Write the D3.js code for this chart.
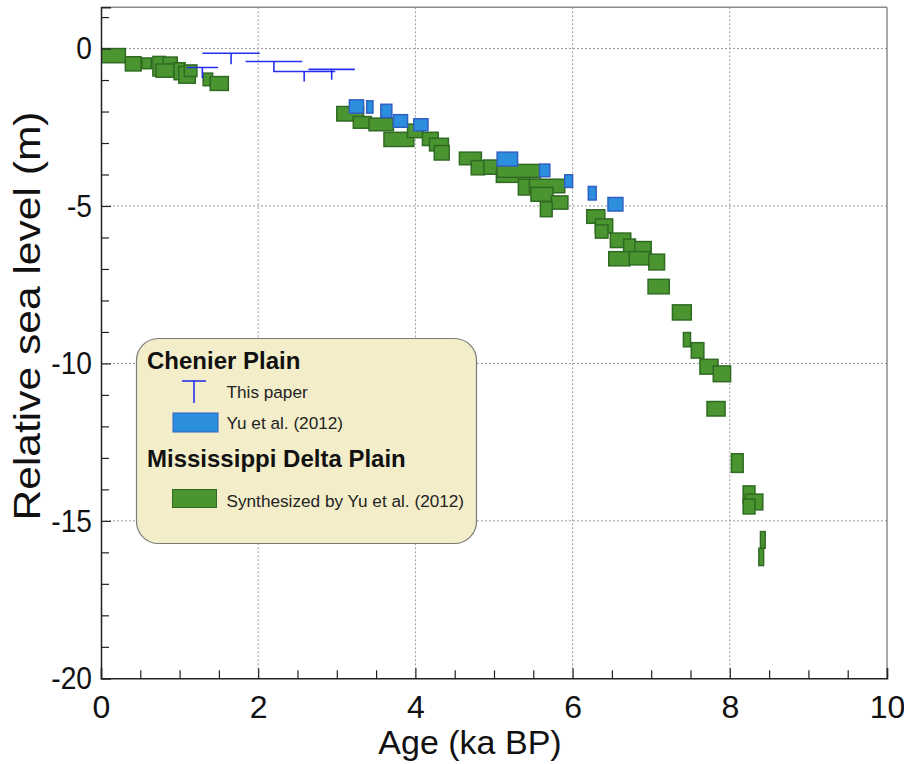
<!DOCTYPE html>
<html>
<head>
<meta charset="utf-8">
<script src="https://cdn.jsdelivr.net/npm/d3@7/dist/d3.min.js"></script>
<style>
  html, body { margin: 0; padding: 0; background: #fff; }
  svg { display: block; font-family: "Liberation Sans", Arial, sans-serif; }
</style>
</head>
<body>
<svg id="chart" width="904" height="764"></svg>
<script>
// ---- DATA ----
// Mississippi Delta Plain (synthesized by Yu et al. 2012): [age min, age max, RSL top, RSL bottom] (ka BP, m)
const mississippiDelta = [
  [0.00, 0.31, 0.00, -0.45],
  [0.31, 0.51, -0.26, -0.71],
  [0.52, 0.64, -0.30, -0.64],
  [0.66, 0.82, -0.25, -0.87],
  [0.79, 0.97, -0.27, -0.64],
  [0.70, 0.93, -0.49, -0.91],
  [0.93, 1.07, -0.45, -0.99],
  [0.99, 1.20, -0.57, -1.10],
  [1.06, 1.22, -0.52, -0.89],
  [1.30, 1.42, -0.78, -1.18],
  [1.39, 1.62, -0.89, -1.33],
  [3.00, 3.34, -1.84, -2.30],
  [3.21, 3.44, -2.16, -2.53],
  [3.41, 3.72, -2.21, -2.61],
  [3.60, 3.98, -2.66, -3.11],
  [3.90, 4.10, -2.40, -2.83],
  [4.09, 4.29, -2.66, -3.08],
  [4.18, 4.42, -2.85, -3.25],
  [4.24, 4.43, -3.08, -3.54],
  [4.56, 4.84, -3.29, -3.69],
  [4.71, 4.88, -3.56, -4.01],
  [4.87, 5.05, -3.54, -3.99],
  [5.03, 5.45, -3.89, -4.25],
  [5.04, 5.59, -3.68, -4.09],
  [5.31, 5.59, -4.15, -4.65],
  [5.45, 5.90, -4.15, -4.58],
  [5.47, 5.75, -4.41, -4.85],
  [5.73, 5.94, -4.68, -5.10],
  [5.59, 5.74, -4.87, -5.34],
  [6.18, 6.41, -5.12, -5.55],
  [6.29, 6.51, -5.41, -5.86],
  [6.29, 6.45, -5.60, -6.02],
  [6.48, 6.74, -5.86, -6.32],
  [6.65, 6.80, -6.05, -6.50],
  [6.79, 7.00, -6.13, -6.55],
  [6.46, 6.73, -6.45, -6.90],
  [6.72, 6.99, -6.45, -6.87],
  [6.97, 7.17, -6.53, -7.03],
  [6.96, 7.23, -7.33, -7.79],
  [7.27, 7.51, -8.14, -8.62],
  [7.41, 7.50, -9.02, -9.47],
  [7.51, 7.67, -9.34, -9.83],
  [7.62, 7.85, -9.87, -10.34],
  [7.79, 8.01, -10.08, -10.58],
  [7.71, 7.94, -11.21, -11.67],
  [8.02, 8.17, -12.87, -13.46],
  [8.17, 8.32, -13.89, -14.46],
  [8.20, 8.42, -14.15, -14.65],
  [8.17, 8.32, -14.31, -14.78],
  [8.39, 8.45, -15.34, -15.87],
  [8.37, 8.43, -15.87, -16.42]
];

// Chenier Plain, Yu et al. (2012): [age min, age max, RSL top, RSL bottom]
const chenierYu = [
  [3.16, 3.34, -1.63, -2.05],
  [3.38, 3.46, -1.66, -2.05],
  [3.56, 3.70, -1.77, -2.19],
  [3.72, 3.90, -2.10, -2.50],
  [3.98, 4.16, -2.23, -2.61],
  [5.04, 5.30, -3.29, -3.73],
  [5.58, 5.71, -3.67, -4.07],
  [5.90, 6.00, -4.01, -4.41],
  [6.20, 6.30, -4.38, -4.81],
  [6.45, 6.64, -4.73, -5.16]
];

// Chenier Plain, this paper: [age min, age max, RSL, lower bound offset (m)]
const chenierThisPaper = [
  [1.09, 1.49, -0.60, 0.34],
  [1.29, 2.02, -0.15, 0.35],
  [1.84, 2.56, -0.41, 0.32],
  [2.19, 2.98, -0.73, 0.32],
  [2.64, 3.23, -0.66, 0.33]
];

const xMajorTicks = [0, 2, 4, 6, 8, 10];
const xMinorTicks = [0.5, 1, 1.5, 2.5, 3, 3.5, 4.5, 5, 5.5, 6.5, 7, 7.5, 8.5, 9, 9.5];
const yMajorTicks = [0, -5, -10, -15, -20];
const yMinorTicks = [1, -1, -2, -3, -4, -6, -7, -8, -9, -11, -12, -13, -14, -16, -17, -18, -19];
const xGrid = [2, 4, 6, 8];
const yGrid = [0, -5, -10, -15];

const legendItems = [
  { type: "header", text: "Chenier Plain" },
  { type: "tee", text: "This paper" },
  { type: "blue", text: "Yu et al. (2012)" },
  { type: "header", text: "Mississippi Delta Plain" },
  { type: "green", text: "Synthesized by Yu et al. (2012)" }
];

// ---- CHART ----
const svg = d3.select("#chart");
const X0 = 101, X1 = 887, Y0 = 678.3, Y1 = 7.3;
const x = d3.scaleLinear().domain([0, 10]).range([X0, X1]);
const y = d3.scaleLinear().domain([-20, 1.31]).range([Y0, Y1]);

const GREEN = "#4b9530", GREEN_S = "#2f6a22";
const BLUE = "#2c8fdd", BLUE_S = "#2f5fc4";
const TEE = "#2430ee";

svg.append("defs").append("clipPath").attr("id", "clip")
  .append("rect").attr("x", X0).attr("y", Y1).attr("width", X1 - X0).attr("height", Y0 - Y1);

// grid
const grid = svg.append("g").attr("stroke", "#9a9a9a").attr("stroke-width", 1).attr("stroke-dasharray", "2,2");
grid.selectAll("line.gx").data(xGrid).join("line")
  .attr("x1", d => x(d)).attr("x2", d => x(d)).attr("y1", Y1).attr("y2", Y0);
grid.selectAll("line.gy").data(yGrid).join("line")
  .attr("x1", X0).attr("x2", X1).attr("y1", d => y(d)).attr("y2", d => y(d));

const plot = svg.append("g").attr("clip-path", "url(#clip)");

// green boxes
plot.append("g").selectAll("rect").data(mississippiDelta).join("rect")
  .attr("x", d => x(d[0])).attr("width", d => x(d[1]) - x(d[0]))
  .attr("y", d => y(d[2])).attr("height", d => y(d[3]) - y(d[2]))
  .attr("fill", GREEN).attr("stroke", GREEN_S).attr("stroke-width", 1.5);

// blue boxes
plot.append("g").selectAll("rect").data(chenierYu).join("rect")
  .attr("x", d => x(d[0])).attr("width", d => x(d[1]) - x(d[0]))
  .attr("y", d => y(d[2])).attr("height", d => y(d[3]) - y(d[2]))
  .attr("fill", BLUE).attr("stroke", BLUE_S).attr("stroke-width", 1.5);

// tee markers
const tees = plot.append("g").attr("stroke", TEE).attr("stroke-width", 1.6).attr("fill", "none");
tees.selectAll("line.h").data(chenierThisPaper).join("line").attr("class", "h")
  .attr("x1", d => x(d[0])).attr("x2", d => x(d[1]))
  .attr("y1", d => y(d[2])).attr("y2", d => y(d[2]));
tees.selectAll("line.v").data(chenierThisPaper).join("line").attr("class", "v")
  .attr("x1", d => x((d[0] + d[1]) / 2)).attr("x2", d => x((d[0] + d[1]) / 2))
  .attr("y1", d => y(d[2])).attr("y2", d => y(d[2] - d[3]));

// frame (top/right)
svg.append("line").attr("x1", X0).attr("x2", X1).attr("y1", Y1).attr("y2", Y1).attr("stroke", "#8a8a8a").attr("stroke-width", 1.5);
svg.append("line").attr("x1", X1).attr("x2", X1).attr("y1", Y1).attr("y2", Y0).attr("stroke", "#8a8a8a").attr("stroke-width", 1.5);

// axes
const fontTick = 32;
const xAxis = svg.append("g").attr("transform", `translate(0,${Y0})`)
  .call(d3.axisBottom(x).tickValues(xMajorTicks).tickSize(-10).tickPadding(17).tickFormat(d3.format("d")));
svg.append("g").attr("transform", `translate(0,${Y0})`)
  .call(d3.axisBottom(x).tickValues(xMinorTicks).tickSize(-8).tickFormat(""))
  .call(g => g.select(".domain").remove());
const yAxis = svg.append("g").attr("transform", `translate(${X0},0)`)
  .call(d3.axisLeft(y).tickValues(yMajorTicks).tickSize(-10).tickPadding(9).tickFormat(d => d3.format("d")(d).replace("\u2212", "-")));
svg.append("g").attr("transform", `translate(${X0},0)`)
  .call(d3.axisLeft(y).tickValues(yMinorTicks).tickSize(-8).tickFormat(""))
  .call(g => g.select(".domain").remove());

svg.selectAll(".tick line").attr("stroke", "#222").attr("stroke-width", 1.2);
svg.selectAll(".domain").attr("stroke", "#222").attr("stroke-width", 1.5);
xAxis.selectAll("text").attr("font-size", fontTick).attr("fill", "#111").attr("font-family", "Liberation Sans, Arial, sans-serif");
yAxis.selectAll("text").attr("font-size", fontTick).attr("fill", "#111").attr("font-family", "Liberation Sans, Arial, sans-serif")
  .attr("transform", function() { return "scale(0.88,1)"; })
  .attr("x", function() { return +d3.select(this).attr("x") / 0.88; });

// axis titles
svg.append("text").attr("x", 470).attr("y", 754).attr("text-anchor", "middle")
  .attr("font-size", 34).attr("fill", "#111").text("Age (ka BP)");
svg.append("text").attr("transform", "translate(40,316) rotate(-90) scale(1.15,1)").attr("text-anchor", "middle")
  .attr("font-size", 37).attr("fill", "#111").text("Relative sea level (m)");

// legend
const lg = svg.append("g");
lg.append("rect").attr("x", 136.5).attr("y", 338.5).attr("width", 340).attr("height", 205).attr("rx", 22).attr("ry", 22)
  .attr("fill", "#f3eec9").attr("stroke", "#7a7a7a").attr("stroke-width", 1.2);
const rowY = [369, 398, 429, 467, 507];
legendItems.forEach((it, i) => {
  const by = rowY[i];
  if (it.type === "header") {
    lg.append("text").attr("x", 147).attr("y", by).attr("font-size", 24).attr("font-weight", "bold").attr("fill", "#111").text(it.text);
    return;
  }
  if (it.type === "tee") {
    lg.append("line").attr("x1", 182).attr("x2", 206).attr("y1", 381).attr("y2", 381).attr("stroke", TEE).attr("stroke-width", 1.6);
    lg.append("line").attr("x1", 194).attr("x2", 194).attr("y1", 381).attr("y2", 403).attr("stroke", TEE).attr("stroke-width", 1.6);
  } else if (it.type === "blue") {
    lg.append("rect").attr("x", 173).attr("y", 413).attr("width", 45).attr("height", 19).attr("fill", BLUE).attr("stroke", BLUE_S).attr("stroke-width", 1);
  } else {
    lg.append("rect").attr("x", 172.5).attr("y", 489.5).attr("width", 44).attr("height", 18).attr("fill", GREEN).attr("stroke", GREEN_S).attr("stroke-width", 1);
  }
  lg.append("text").attr("x", 226.5).attr("y", by).attr("font-size", 17.2).attr("fill", "#222").text(it.text);
});
</script>
</body>
</html>
